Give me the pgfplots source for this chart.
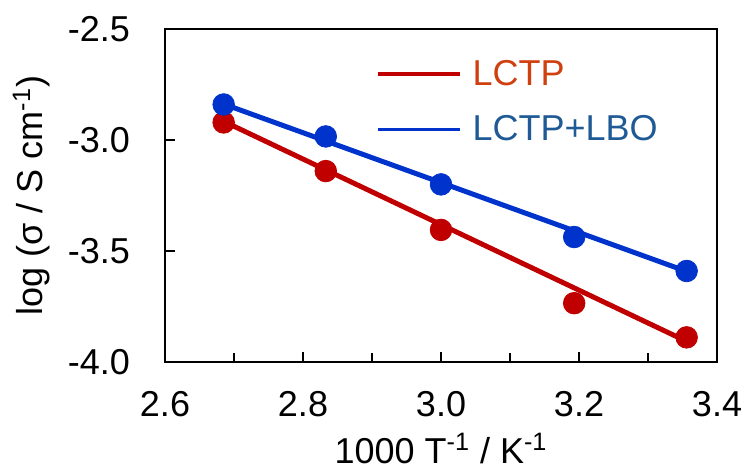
\documentclass[border=0pt]{standalone}
\usepackage{fontspec}
\setmainfont{Liberation Sans}
\usepackage{pgfplots}
\pgfplotsset{compat=1.18}
\definecolor{cred}{HTML}{C00000}
\definecolor{cblue}{HTML}{0033CC}
\definecolor{tred}{HTML}{D0400F}
\definecolor{tblue}{HTML}{1F5A96}
\begin{document}
\begin{tikzpicture}
\begin{axis}[
  scale only axis, width=276pt, height=166.5pt,
  xmin=2.6, xmax=3.4, ymin=-4.0, ymax=-2.5,
  xtick={2.6,2.8,3.0,3.2,3.4}, minor xtick={2.7,2.9,3.1,3.3},
  ytick={-4.0,-3.5,-3.0,-2.5},
  xtick pos=bottom, ytick pos=left, tick align=inside,
  major tick length=5pt, minor tick length=4.5pt,
  tick style={black, line width=0.8pt},
  axis line style={line width=0.8pt},
  /pgf/number format/.cd, fixed, fixed zerofill, precision=1, assume math mode=true, /pgfplots/.cd,
  tick label style={font=\fontsize{18}{22}\selectfont},
  xticklabel style={yshift=-11pt},
  yticklabel style={xshift=-14pt},
  label style={font=\fontsize{18}{22}\selectfont},
  xlabel={1000 T\textsuperscript{-1} / K\textsuperscript{-1}},
  xlabel style={yshift=-1.5pt},
  ylabel={log (σ / S cm\textsuperscript{-1})},
  ylabel shift=2pt,
  legend style={draw=none, fill=none, at={(rel axis cs:0.371,0.932)}, anchor=north west,
    font=\fontsize{18}{22}\selectfont, row sep=9.5pt},
  legend cell align=left,
  legend image code/.code={\draw[#1] (0pt,0pt) -- (41pt,0pt); \path (44.5pt,0pt);},
]
\addplot[only marks, mark=*, mark size=5.4pt, cred, forget plot] coordinates {
  (2.685,-2.921) (2.833,-3.140) (3.000,-3.405) (3.193,-3.735) (3.356,-3.889)};
\addplot[only marks, mark=*, mark size=5.4pt, cblue, forget plot] coordinates {
  (2.685,-2.840) (2.833,-2.984) (3.000,-3.200) (3.193,-3.437) (3.356,-3.590)};
\addplot[cred, line width=2.5pt, forget plot] coordinates {(2.685,-2.916) (3.356,-3.907)};
\addplot[cblue, line width=2.5pt, forget plot] coordinates {(2.685,-2.838) (3.356,-3.592)};
\addlegendimage{cred, line width=1.7pt}
\addlegendentry{\textcolor{tred}{LCTP}}
\addlegendimage{cblue, line width=1.7pt}
\addlegendentry{\textcolor{tblue}{LCTP+LBO}}
\end{axis}
\pgfresetboundingbox
\useasboundingbox ([shift={(-82.5pt,-53pt)}]current axis.south west)
  rectangle ([shift={(12.5pt,14.5pt)}]current axis.north east);
\end{tikzpicture}
\end{document}
